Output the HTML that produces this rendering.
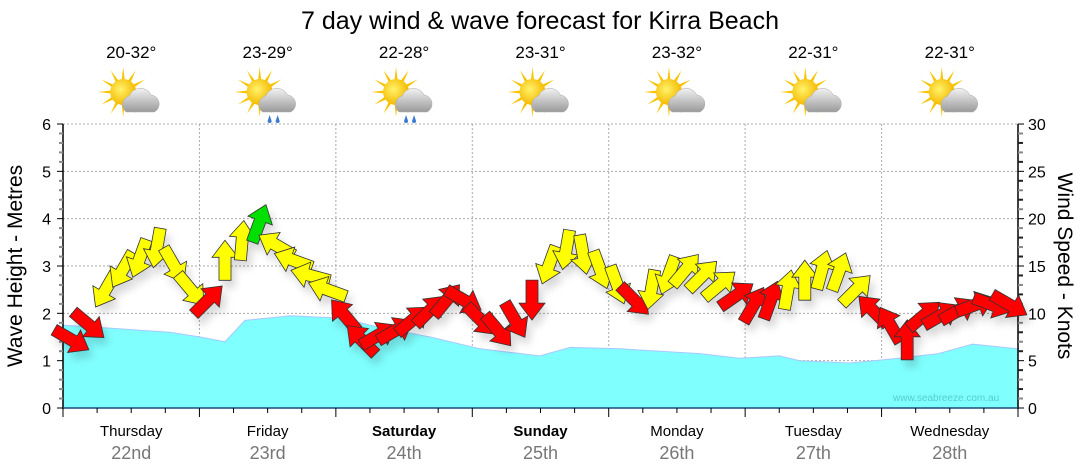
<!DOCTYPE html>
<html><head><meta charset="utf-8"><style>
html,body{margin:0;padding:0;background:#fff;}
svg{display:block;font-family:"Liberation Sans",sans-serif;}
</style></head><body>
<svg id="chart" width="1080" height="475" viewBox="0 0 1080 475">
<defs>
<filter id="sh" x="-50%" y="-50%" width="200%" height="200%"><feDropShadow dx="4" dy="7" stdDeviation="4" flood-color="#000" flood-opacity="0.15"/></filter>
<radialGradient id="sun" cx="0.4" cy="0.4" r="0.6"><stop offset="0" stop-color="#fff36a"/><stop offset="1" stop-color="#f5b800"/></radialGradient>
<linearGradient id="cloud" x1="0" y1="0" x2="0" y2="1"><stop offset="0" stop-color="#f2f2f2"/><stop offset="1" stop-color="#9a9a9a"/></linearGradient>
</defs>
<text x="540" y="29" text-anchor="middle" font-size="25" fill="#000">7 day wind &amp; wave forecast for Kirra Beach</text>
<g id="grid"></g>
<g id="waves"></g>
<g id="axes"></g>
<g id="arrows" filter="url(#sh)"></g>
<g id="icons"></g>
<text x="893" y="401" font-size="10" fill="#5cc">www.seabreeze.com.au</text>
<text transform="translate(22,266) rotate(-90)" text-anchor="middle" font-size="21">Wave Height - Metres</text>
<text transform="translate(1058,266) rotate(90)" text-anchor="middle" font-size="21">Wind Speed - Knots</text>
</svg>
<script>
const days=["Thursday","Friday","Saturday","Sunday","Monday","Tuesday","Wednesday"];
const dates=["22nd","23rd","24th","25th","26th","27th","28th"];
const boldDays=[false,false,true,true,false,false,false];
const temps=["20-32°","23-29°","22-28°","23-31°","23-32°","22-31°","22-31°"];
const rain=[false,true,true,false,false,false,false];
const waveHours=[0,6.5,18.8,24.1,28.5,32,40,48.7,55.8,64.6,73.4,83.9,89.2,98,112,119,126,129.6,138.4,147,154,160,168];
const waveHeights=[1.75,1.7,1.6,1.5,1.4,1.85,1.95,1.9,1.7,1.5,1.25,1.1,1.28,1.25,1.15,1.05,1.1,1.0,0.95,1.05,1.15,1.35,1.25];
const windSpeeds=[7.2,8.8,12.5,14.6,15.8,16.9,15.1,12.5, 11.4,15.6,17.7,19.5,17.2,15.6,14.0,12.5, 9.8,7.2,7.7,8.2,9.3,10.3,11.4,11.4, 9.3,8.2,9.3,11.4,15.1,16.7,16.2,14.6, 13.0,11.4,12.5,14.0,14.6,14.0,13.0,11.9, 10.9,11.4,12.5,13.5,14.6,14.4,12.5,10.3, 8.8,7.2,9.8,9.8,10.3,10.9,10.9,10.9];
const windDirs=[120,130,210,210,200,190,150,140, 45,0,5,20,300,290,285,290, 320,315,60,60,50,45,40,120, 135,140,150,180,200,190,170,160, 160,135,190,200,40,45,50,55, 30,20,10,0,15,20,45,315, 330,0,50,60,60,70,110,120];
const waveTicks=[0,1,2,3,4,5,6];
const knotTicks=[0,5,10,15,20,25,30];

const NS="http://www.w3.org/2000/svg";
const X0=63,X1=1018,Y0=408,Y1=124;
const xH=h=>X0+(X1-X0)*h/168;
const yM=m=>Y0-(Y0-Y1)*m/6;
const yK=k=>Y0-(Y0-Y1)*k/30;
function mk(tag,attrs,parent){const e=document.createElementNS(NS,tag);for(const k in attrs)e.setAttribute(k,attrs[k]);parent.appendChild(e);return e;}
const G=id=>document.getElementById(id);

const grid=G('grid');
for(let d=1;d<7;d++){const l=mk('line',{x1:xH(d*24),x2:xH(d*24),y1:Y1,y2:Y0,stroke:'#aaa','stroke-dasharray':'2,2'},grid);

}
waveTicks.forEach(t=>{if(t==0)return;const l=mk('line',{x1:X0,x2:X1,y1:yM(t),y2:yM(t),stroke:'#aaa','stroke-dasharray':'2,2'},grid);

});

let d=`M${X0},${Y0}`;waveHours.forEach((h,i)=>{d+=` L${xH(h).toFixed(1)},${yM(waveHeights[i]).toFixed(1)}`;});d+=` L${X1},${Y0} Z`;
const wp=mk('path',{d:d,fill:'#80ffff',stroke:'#a8c8ff','stroke-width':1},G('waves'));



const ax=G('axes');
mk('line',{x1:X0,x2:X0,y1:Y1,y2:Y0+1,stroke:'#000','stroke-width':1.5},ax);
mk('line',{x1:X1,x2:X1,y1:Y1,y2:Y0+1,stroke:'#000','stroke-width':1.5},ax);
mk('line',{x1:X0,x2:X1,y1:Y0,y2:Y0,stroke:'#1b4b7a','stroke-width':1.5},ax);
for(let m=0;m<=6.01;m+=0.2){const maj=Math.abs(m-Math.round(m))<0.01;mk('line',{x1:X0-(maj?6:4),x2:X0,y1:yM(m),y2:yM(m),stroke:maj?'#000':'#888','stroke-width':maj?1:2},ax);}
waveTicks.forEach(t=>{const e=mk('text',{x:X0-12,y:yM(t)+6,'text-anchor':'end','font-size':16},ax);e.textContent=t;

});
for(let k=0;k<=30;k++){const maj=k%5==0;mk('line',{x1:X1,x2:X1+(maj?6:5),y1:yK(k),y2:yK(k),stroke:maj?'#000':(k%2?'#888':'#222'),'stroke-width':maj?1:2},ax);}
knotTicks.forEach(t=>{const e=mk('text',{x:X1+10,y:yK(t)+6,'font-size':16},ax);e.textContent=t;

});
for(let h=0;h<=168;h+=6){const maj=h%24==0;mk('line',{x1:xH(h),x2:xH(h),y1:Y0,y2:Y0+(maj?9:5),stroke:'#000','stroke-width':1},ax);}
days.forEach((n,i)=>{const cx=xH(i*24+12);
const t=mk('text',{x:cx,y:436,'text-anchor':'middle','font-size':15,'font-weight':boldDays[i]?'bold':'normal'},ax);t.textContent=n;


const t2=mk('text',{x:cx,y:459,'text-anchor':'middle','font-size':18,fill:'#777'},ax);t2.textContent=dates[i];


const t3=mk('text',{x:cx,y:58,'text-anchor':'middle','font-size':17},G('icons'));t3.textContent=temps[i];


const g=mk('g',{transform:`translate(${cx},96)`},G('icons'));


for(let a=0;a<12;a++){const r=a*30*Math.PI/180;
mk('polygon',{points:`${-8+Math.cos(r-0.13)*12},${-4+Math.sin(r-0.13)*12} ${-8+Math.cos(r)*25},${-4+Math.sin(r)*25} ${-8+Math.cos(r+0.13)*12},${-4+Math.sin(r+0.13)*12}`,fill:'#f8c400'},g);}
mk('circle',{cx:-8,cy:-4,r:13,fill:'url(#sun)'},g);
mk('path',{d:'M-5,16 a9,9 0 0 1 3,-16 a12,12 0 0 1 22,-1 a9,9 0 0 1 3,17 Z',fill:'url(#cloud)',stroke:'#aaa','stroke-width':0.5},g);
if(rain[i]){mk('path',{d:'M2,19 l-2,6 a2,2 0 0 0 4,0 Z M10,19 l-2,6 a2,2 0 0 0 4,0 Z',fill:'#3a7ad0'},g);}
});

const ag=G('arrows');
windSpeeds.forEach((s,i)=>{const h=i*3+1.5;const x=xH(h),y=yK(s);
const col=s>=19?'#00e000':(s>=12?'#ffff00':'#ff0000');
const p=mk('polygon',{points:'-6,20 -6,-3 -13,-3 0,-20 13,-3 6,-3 6,20',fill:col,stroke:'#333','stroke-width':0.8,transform:`translate(${x.toFixed(1)},${y.toFixed(1)}) rotate(${windDirs[i]})`},ag);

});
</script>
</body></html>
